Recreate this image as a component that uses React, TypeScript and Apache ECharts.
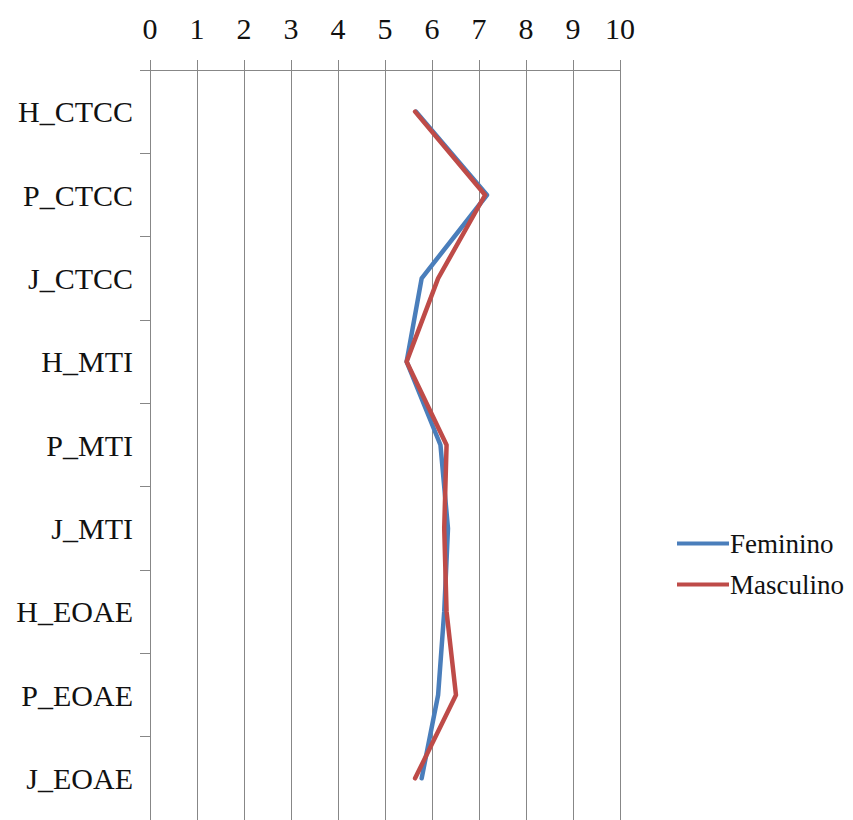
import React, { useEffect, useRef } from "react";
import * as echarts from "echarts";

// Dimension labels, listed top to bottom
const categories = [
  "H_CTCC",
  "P_CTCC",
  "J_CTCC",
  "H_MTI",
  "P_MTI",
  "J_MTI",
  "H_EOAE",
  "P_EOAE",
  "J_EOAE",
];

// Mean scores per group
const feminino = [5.66, 7.17, 5.78, 5.46, 6.18, 6.34, 6.26, 6.13, 5.78];
const masculino = [5.64, 7.13, 6.13, 5.46, 6.31, 6.26, 6.31, 6.51, 5.64];

const seriesNames = ["Feminino", "Masculino"];
const seriesColors = ["#4A7EBB", "#BE4B48"];

const FONT = "'Liberation Serif', 'Times New Roman', serif";
const AXIS_GREY = "#878787";

export default function App() {
  const ref = useRef<HTMLDivElement>(null);

  useEffect(() => {
    if (!ref.current) return;
    const chart = echarts.init(ref.current, undefined, { renderer: "svg" });
    chart.setOption({
      animation: false,
      backgroundColor: "#ffffff",
      textStyle: { fontFamily: FONT },
      grid: { left: 150, top: 70, width: 470, height: 750, containLabel: false },
      legend: {
        orient: "vertical",
        left: 672,
        top: 525,
        icon: "rect",
        itemWidth: 52,
        itemHeight: 4,
        itemGap: 14,
        data: seriesNames,
        textStyle: { fontFamily: FONT, fontSize: 27, color: "#111", padding: [0, 0, 0, -4] },
      },
      xAxis: {
        type: "value",
        position: "top",
        min: 0,
        max: 10,
        interval: 1,
        axisLine: { show: true, lineStyle: { color: AXIS_GREY, width: 1 } },
        axisTick: { show: true, length: 10, lineStyle: { color: AXIS_GREY } },
        axisLabel: { fontFamily: FONT, fontSize: 30, color: "#111", margin: 27 },
        splitLine: { show: true, lineStyle: { color: AXIS_GREY, width: 1 } },
      },
      yAxis: {
        type: "category",
        inverse: true,
        boundaryGap: true,
        data: categories,
        axisLine: { show: true, lineStyle: { color: AXIS_GREY, width: 1 } },
        axisTick: { show: true, length: 10, lineStyle: { color: AXIS_GREY } },
        axisLabel: {
          fontFamily: FONT,
          fontSize: 30,
          color: "#111",
          margin: 17,
          padding: [8, 0, 0, 0],
        },
        splitLine: { show: false },
      },
      series: [
        {
          name: seriesNames[0],
          type: "line",
          data: feminino,
          symbol: "none",
          lineStyle: { color: seriesColors[0], width: 4.5, join: "round", cap: "round" },
          itemStyle: { color: seriesColors[0] },
        },
        {
          name: seriesNames[1],
          type: "line",
          data: masculino,
          symbol: "none",
          lineStyle: { color: seriesColors[1], width: 4.5, join: "round", cap: "round" },
          itemStyle: { color: seriesColors[1] },
        },
      ],
    });
    return () => chart.dispose();
  }, []);

  return (
    <div
      ref={ref}
      style={{ position: "fixed", left: 0, top: 0, width: 853, height: 820, background: "#fff" }}
    />
  );
}
